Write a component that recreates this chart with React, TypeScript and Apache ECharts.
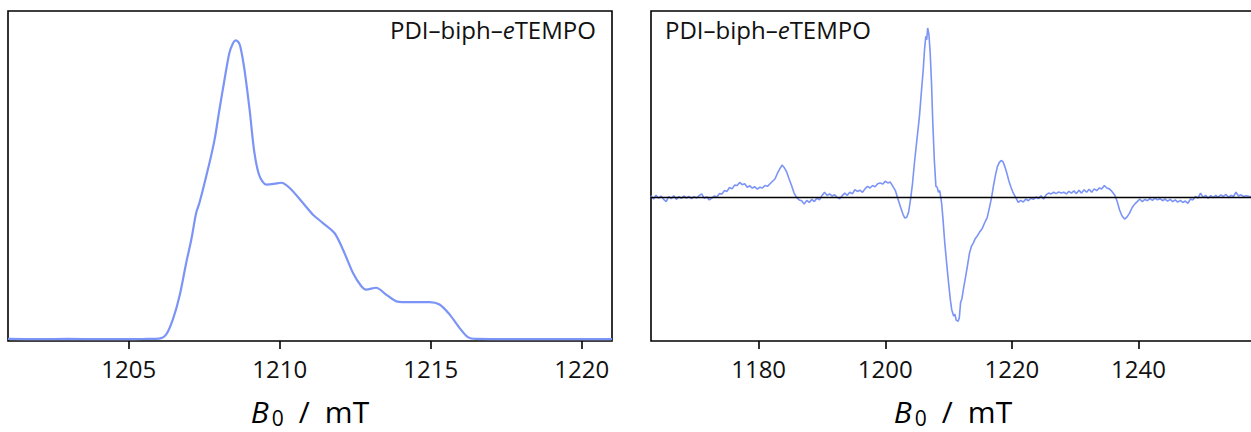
import React, { useEffect, useRef } from "react";
import * as echarts from "echarts";

// ---------- data ----------
const leftField: number[] = [
  1201.0, 1202.0, 1203.0, 1204.0, 1205.0, 1205.6, 1206.0, 1206.24, 1206.46, 1206.68,
  1206.9, 1207.07, 1207.23, 1207.34, 1207.67, 1207.84, 1208.0, 1208.17, 1208.33, 1208.45,
  1208.53, 1208.62, 1208.69, 1208.83, 1209.0, 1209.16, 1209.33, 1209.55, 1209.8, 1210.05,
  1210.32, 1210.76, 1211.09, 1211.42, 1211.81, 1212.09, 1212.42, 1212.7, 1212.86, 1213.19,
  1213.52, 1213.85, 1214.13, 1214.96, 1215.29, 1215.62, 1215.95, 1216.23, 1216.5, 1218.0,
  1221.0,
];
const leftSignal: number[] = [
  0.002, 0.001, 0.002, 0.001, 0.001, 0.002, 0.003, 0.017, 0.067, 0.145,
  0.256, 0.334, 0.423, 0.457, 0.59, 0.668, 0.768, 0.869, 0.958, 0.99,
  1.0, 0.995, 0.98, 0.902, 0.768, 0.624, 0.546, 0.518, 0.52, 0.524,
  0.507, 0.457, 0.418, 0.39, 0.356, 0.301, 0.223, 0.178, 0.167, 0.173,
  0.15, 0.128, 0.125, 0.125, 0.117, 0.084, 0.039, 0.008, 0.002, 0.001,
  0.001,
];

const rightField: number[] = [
  1163.0, 1163.4, 1163.8, 1164.2, 1164.6, 1165.0, 1165.4, 1165.8, 1166.2, 1166.6,
  1167.0, 1167.4, 1167.8, 1168.2, 1168.6, 1169.0, 1169.4, 1169.8, 1170.2, 1170.6,
  1171.0, 1171.4, 1171.8, 1172.2, 1172.6, 1173.0, 1173.4, 1173.8, 1174.2, 1174.6,
  1175.0, 1175.4, 1175.8, 1176.2, 1176.6, 1177.0, 1177.4, 1177.8, 1178.2, 1178.6,
  1179.0, 1179.4, 1179.8, 1180.2, 1180.6, 1181.0, 1181.4, 1181.8, 1182.2, 1182.6,
  1183.0, 1183.4, 1183.7, 1184.0, 1184.4, 1184.8, 1185.2, 1185.6, 1186.0, 1186.4,
  1186.8, 1187.2, 1187.6, 1188.0, 1188.4, 1188.8, 1189.2, 1189.6, 1190.0, 1190.4,
  1190.8, 1191.2, 1191.6, 1192.0, 1192.4, 1192.8, 1193.2, 1193.6, 1194.0, 1194.4,
  1194.8, 1195.2, 1195.6, 1196.0, 1196.4, 1196.8, 1197.2, 1197.6, 1198.0, 1198.4,
  1198.8, 1199.2, 1199.6, 1200.0, 1200.4, 1200.8, 1201.2, 1201.6, 1202.0, 1202.4,
  1202.8, 1203.1, 1203.4, 1203.7, 1204.0, 1204.3, 1204.6, 1205.0, 1205.4, 1205.7,
  1206.0, 1206.2, 1206.4, 1206.55, 1206.7, 1206.9, 1207.1, 1207.3, 1207.5, 1207.75,
  1208.0, 1208.2, 1208.4, 1208.6, 1208.9, 1209.1, 1209.4, 1209.7, 1210.0, 1210.3,
  1210.5, 1210.8, 1211.0, 1211.2, 1211.5, 1211.7, 1211.9, 1212.1, 1212.4, 1212.7,
  1213.0, 1213.3, 1213.6, 1213.9, 1214.2, 1214.5, 1214.9, 1215.3, 1215.7, 1216.1,
  1216.5, 1216.8, 1217.1, 1217.4, 1217.7, 1218.0, 1218.3, 1218.6, 1218.9, 1219.2,
  1219.5, 1219.8, 1220.2, 1220.6, 1221.0, 1221.4, 1221.8, 1222.2, 1222.6, 1223.0,
  1223.4, 1223.8, 1224.2, 1224.6, 1225.0, 1225.4, 1225.8, 1226.2, 1226.6, 1227.0,
  1227.4, 1227.8, 1228.2, 1228.6, 1229.0, 1229.4, 1229.8, 1230.2, 1230.6, 1231.0,
  1231.4, 1231.8, 1232.2, 1232.6, 1233.0, 1233.4, 1233.8, 1234.2, 1234.6, 1235.0,
  1235.4, 1235.8, 1236.2, 1236.6, 1237.0, 1237.4, 1237.8, 1238.2, 1238.6, 1239.0,
  1239.4, 1239.8, 1240.2, 1240.6, 1241.0, 1241.4, 1241.8, 1242.2, 1242.6, 1243.0,
  1243.4, 1243.8, 1244.2, 1244.6, 1245.0, 1245.4, 1245.8, 1246.2, 1246.6, 1247.0,
  1247.4, 1247.8, 1248.2, 1248.6, 1249.0, 1249.4, 1249.8, 1250.2, 1250.6, 1251.0,
  1251.4, 1251.8, 1252.2, 1252.6, 1253.0, 1253.4, 1253.8, 1254.2, 1254.6, 1255.0,
  1255.4, 1255.8, 1256.2, 1256.6, 1257.0, 1257.4, 1258.0,
];
const rightSignal: number[] = [
  0.01, -0.01, 0.012, -0.005, 0.008, -0.012, -0.025, 0.005, -0.008, 0.01,
  -0.012, 0.004, -0.006, 0.008, -0.004, 0.006, -0.008, 0.004, -0.004, 0.01,
  0.02, -0.005, 0.003, -0.015, -0.005, 0.008, 0.002, 0.022, 0.02, 0.04,
  0.035, 0.058, 0.05, 0.072, 0.07, 0.088, 0.075, 0.08, 0.06, 0.068,
  0.055, 0.062, 0.048, 0.06, 0.055, 0.07, 0.065, 0.08, 0.095, 0.11,
  0.145, 0.172, 0.19, 0.178, 0.152, 0.11, 0.07, 0.025, 0.0, -0.015,
  -0.02, -0.04, -0.018, -0.03, -0.012, -0.025, -0.005, -0.015, 0.01, 0.03,
  0.012, 0.02, 0.008, 0.015, 0.0, -0.008, 0.01, 0.025, 0.012, 0.03,
  0.02, 0.045, 0.035, 0.042, 0.03, 0.05, 0.065, 0.055, 0.07, 0.062,
  0.08, 0.085, 0.078, 0.095, 0.085, 0.09, 0.065, 0.04, -0.01, -0.055,
  -0.1, -0.122, -0.118, -0.085, -0.01, 0.08, 0.2, 0.34, 0.478, 0.62,
  0.754, 0.87, 0.95, 0.93, 1.0, 0.96, 0.85, 0.68, 0.45, 0.22,
  0.065, 0.06, 0.03, 0.04, -0.033, -0.12, -0.269, -0.39, -0.505, -0.61,
  -0.663, -0.7, -0.69, -0.725, -0.732, -0.71, -0.62, -0.6, -0.53, -0.466,
  -0.4, -0.33, -0.29, -0.27, -0.245, -0.23, -0.205, -0.185, -0.15, -0.12,
  -0.053, 0.0, 0.07, 0.13, 0.18, 0.205, 0.218, 0.21, 0.18, 0.144,
  0.1, 0.065, 0.026, 0.0, -0.03, -0.018, -0.028, -0.01, -0.02, -0.005,
  -0.012, 0.002, -0.008, 0.01, -0.01, 0.015, 0.025, 0.02, 0.03, 0.022,
  0.032, 0.025, 0.03, 0.02, 0.035, 0.025, 0.038, 0.022, 0.042, 0.025,
  0.045, 0.03, 0.048, 0.03, 0.05, 0.04, 0.055, 0.05, 0.07, 0.055,
  0.05, 0.035, 0.016, -0.02, -0.073, -0.11, -0.128, -0.115, -0.092, -0.06,
  -0.04, -0.025, -0.01, -0.025, -0.012, -0.02, -0.008, -0.018, -0.005, -0.015,
  -0.008, -0.02, -0.01, -0.022, -0.012, -0.025, -0.015, -0.028, -0.018, -0.03,
  -0.022, -0.035, -0.01, -0.015, 0.005, -0.005, 0.025, 0.0, 0.012, -0.005,
  0.01, -0.002, 0.012, 0.0, 0.015, 0.005, 0.018, 0.0, 0.012, 0.005,
  0.03, 0.008, 0.015, 0.005, 0.01, 0.006, 0.004,
];

const leftTicks: number[] = [1205, 1210, 1215, 1220];
const rightTicks: number[] = [1180, 1200, 1220, 1240];
const sampleLabel = "PDI–biph–";
const sampleItalic = "e";
const sampleTail = "TEMPO";

const FONT = "'Open Sans', 'Liberation Sans', sans-serif";
const LINE_COLOR = "#7b94f6";

function zip(xs: number[], ys: number[]): number[][] {
  return xs.map((x, i) => [x, ys[i]]);
}

function xAxisFor(gridIndex: number, min: number, max: number, ticks: number[]) {
  return {
    type: "value",
    gridIndex,
    min,
    max,
    name: "{b|B\u200A}{s|0}{t|\u2002/\u2002mT}",
    nameLocation: "middle",
    nameGap: 53,
    nameTextStyle: {
      color: "#000",
      fontFamily: FONT,
      fontSize: 30,
      lineHeight: 34,
      rich: {
        b: { fontStyle: "italic", fontSize: 30, lineHeight: 34, color: "#000", fontFamily: FONT },
        s: { fontSize: 21, lineHeight: 20, verticalAlign: "bottom", color: "#000", fontFamily: FONT },
        t: { fontSize: 30, lineHeight: 34, color: "#000", fontFamily: FONT },
      },
    },
    axisLine: { show: false, onZero: false },
    axisTick: {
      show: true,
      inside: false,
      length: 8,
      lineStyle: { color: "#000", width: 1.6 },
      customValues: ticks,
    },
    axisLabel: {
      show: true,
      margin: 15,
      color: "#111",
      fontFamily: FONT,
      fontSize: 24,
      customValues: ticks,
      formatter: (v: number) => String(v),
    },
    splitLine: { show: false },
  };
}

function yAxisFor(gridIndex: number, min: number, max: number) {
  return {
    type: "value",
    gridIndex,
    min,
    max,
    axisLine: { show: false, onZero: false },
    axisTick: { show: false },
    axisLabel: { show: false },
    splitLine: { show: false },
  };
}

function sampleText(pos: Record<string, number>) {
  return {
    type: "text",
    ...pos,
    style: {
      text: `{a|${sampleLabel}}{i|${sampleItalic}}{a|${sampleTail}}`,
      fill: "#111",
      font: `24px ${FONT}`,
      rich: {
        a: { fontSize: 24, fontFamily: FONT, fill: "#111" },
        i: { fontSize: 24, fontFamily: FONT, fontStyle: "italic", fill: "#111" },
      },
    },
  };
}

export default function App() {
  const ref = useRef<HTMLDivElement>(null);

  useEffect(() => {
    document.body.style.margin = "0";
    if (!ref.current) return;
    const chart = echarts.init(ref.current, null, { renderer: "svg" });
    const gridBase = {
      top: 11,
      width: 604,
      height: 330,
      show: true,
      borderColor: "#000",
      borderWidth: 1.6,
      backgroundColor: "transparent",
      containLabel: false,
      outerBoundsMode: "none",
    };
    chart.setOption({
      animation: false,
      backgroundColor: "#fff",
      grid: [
        { ...gridBase, left: 8 },
        { ...gridBase, left: 651 },
      ],
      xAxis: [xAxisFor(0, 1201, 1221, leftTicks), xAxisFor(1, 1163, 1258.4, rightTicks)],
      yAxis: [yAxisFor(0, -0.005, 1.098), yAxisFor(1, -0.848, 1.1)],
      series: [
        {
          name: "EPR left",
          type: "line",
          xAxisIndex: 0,
          yAxisIndex: 0,
          data: zip(leftField, leftSignal),
          showSymbol: false,
          smooth: 0.3,
          lineStyle: { color: LINE_COLOR, width: 2.2 },
          itemStyle: { color: LINE_COLOR },
        },
        {
          name: "EPR right",
          type: "line",
          xAxisIndex: 1,
          yAxisIndex: 1,
          data: zip(rightField, rightSignal),
          showSymbol: false,
          smooth: false,
          lineStyle: { color: LINE_COLOR, width: 1.6 },
          itemStyle: { color: LINE_COLOR },
          markLine: {
            silent: true,
            symbol: "none",
            label: { show: false },
            lineStyle: { color: "#000", width: 1.3, type: "solid" },
            data: [{ yAxis: 0 }],
          },
          z: 3,
        },
      ],
      graphic: [sampleText({ left: 390, top: 17 }), sampleText({ left: 665, top: 17 })],
    });
    return () => chart.dispose();
  }, []);

  return (
    <div style={{ width: 1251, height: 432, overflow: "hidden", position: "relative" }}>
      <div ref={ref} style={{ width: 1275, height: 432 }} />
    </div>
  );
}
